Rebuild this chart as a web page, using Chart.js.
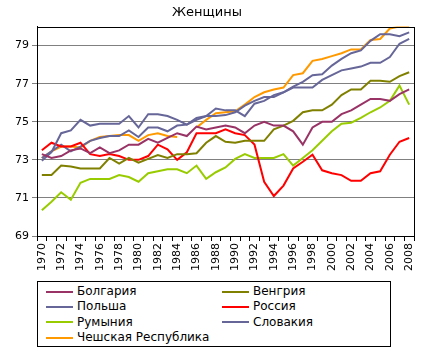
<!DOCTYPE html>
<html>
<head>
<meta charset="utf-8">
<script src="https://cdn.jsdelivr.net/npm/chart.js@4"></script>
<style>
  body { margin: 0; background: #fff; }
  #wrap { position: relative; width: 430px; height: 360px; }
  #box { position: absolute; left: 0; top: 0; width: 430px; height: 280px; }
  #legend {
    position: absolute; left: 37px; top: 281px; width: 354px; height: 66px;
    border: 1px solid #000; box-sizing: border-box;
    font: 12px "DejaVu Sans", sans-serif; color: #000;
  }
  #legend .item { position: absolute; height: 15px; line-height: 15px; white-space: nowrap; }
  #legend .item span.ln { display: inline-block; width: 27px; height: 2px; vertical-align: middle; margin-right: 4px; }
</style>
</head>
<body>
<div id="wrap">
  <div id="box"><canvas id="myChart"></canvas></div>
  <div id="legend"></div>
</div>
<script>
// Годы
var years = [];
for (var y = 1970; y <= 2008; y++) years.push(String(y));

// Ожидаемая продолжительность жизни женщин
var bulgaria = [73.3, 73.1, 73.2, 73.5, 73.6, 73.35, 73.65, 73.35, 73.5, 73.8,
  73.8, 74.1, 73.9, 74.15, 74.4, 74.25, 74.75, 74.6, 74.7, 74.8,
  74.7, 74.4, 74.8, 75.0, 74.8, 74.8, 74.5, 73.8, 74.7, 75.0,
  75.0, 75.4, 75.6, 75.9, 76.2, 76.2, 76.1, 76.45, 76.7];
var hungary = [72.2, 72.2, 72.7, 72.65, 72.55, 72.55, 72.55, 73.1, 72.8, 73.1,
  72.85, 73.05, 73.25, 73.1, 73.3, 73.3, 73.35, 73.9, 74.25, 73.95,
  73.9, 74.0, 74.0, 74.0, 74.6, 74.8, 75.05, 75.5, 75.6, 75.6,
  75.9, 76.4, 76.7, 76.7, 77.15, 77.15, 77.1, 77.4, 77.6];
var poland = [72.95, 73.4, 74.4, 74.55, 75.1, 74.8, 74.9, 74.9, 74.9, 75.3,
  74.7, 75.4, 75.4, 75.3, 75.1, 74.85, 75.1, 75.3, 75.7, 75.6,
  75.6, 75.3, 75.95, 76.1, 76.4, 76.55, 76.85, 77.1, 77.45, 77.5,
  77.95, 78.3, 78.6, 78.75, 79.25, 79.6, 79.6, 79.5, 79.7];
var russia = [73.5, 73.9, 73.7, 73.7, 73.9, 73.3, 73.2, 73.3, 73.2, 73.0,
  73.0, 73.2, 73.8, 73.55, 73.0, 73.4, 74.4, 74.4, 74.4, 74.6,
  74.4, 74.3, 73.8, 71.85, 71.1, 71.65, 72.55, 72.9, 73.27, 72.45,
  72.3, 72.2, 71.9, 71.9, 72.3, 72.4, 73.27, 73.95, 74.15];
var romania = [70.35, 70.8, 71.3, 70.9, 71.8, 72.0, 72.0, 72.0, 72.2, 72.1,
  71.85, 72.3, 72.4, 72.5, 72.5, 72.3, 72.7, 72.0, 72.35, 72.6,
  73.05, 73.3, 73.1, 73.1, 73.1, 73.3, 72.7, 73.1, 73.5, 74.0,
  74.5, 74.9, 74.95, 75.2, 75.5, 75.75, 76.1, 76.9, 75.9];
var slovakia = [73.1, 73.45, 73.8, 73.45, 73.7, 74.0, 74.15, 74.25, 74.25, 74.55,
  74.2, 74.7, 74.7, 74.5, 74.8, 74.85, 75.2, 75.3, 75.3, 75.35,
  75.5, 75.85, 76.1, 76.3, 76.3, 76.55, 76.8, 76.8, 76.8, 77.2,
  77.45, 77.7, 77.8, 77.9, 78.1, 78.1, 78.4, 79.1, 79.35];
var czech = [73.1, 73.45, 73.7, 73.7, 73.65, 74.0, 74.2, 74.25, 74.3, 74.3,
  74.0, 74.3, 74.4, 74.25, 74.2, null, 74.7, 75.1, 75.45, 75.5,
  75.55, 75.9, 76.3, 76.55, 76.7, 76.8, 77.45, 77.55, 78.2, 78.3,
  78.45, 78.6, 78.8, 78.8, 79.3, 79.35, 79.9, 80.0, 80.0];

var yTicks = [69, 71, 73, 75, 77, 79];

function ds(label, data, color) {
  return {
    label: label, data: data, borderColor: color, backgroundColor: color,
    borderWidth: 2, pointRadius: 0, tension: 0, spanGaps: false
  };
}

var data = {
  labels: years,
  datasets: [
    ds("Болгария", bulgaria, "#993366"),
    ds("Венгрия", hungary, "#808000"),
    ds("Польша", poland, "#666699"),
    ds("Россия", russia, "#ff0000"),
    ds("Румыния", romania, "#99cc00"),
    ds("Словакия", slovakia, "#666699"),
    ds("Чешская Республика", czech, "#ff9900")
  ]
};

// рамка области построения
var frame = {
  id: 'frame',
  afterDraw: function (chart) {
    var a = chart.chartArea, c = chart.ctx;
    c.save();
    c.strokeStyle = '#000';
    c.lineWidth = 1;
    c.strokeRect(Math.round(a.left) + 0.5, Math.round(a.top) + 0.5,
      Math.round(a.right - a.left), Math.round(a.bottom - a.top));
    c.restore();
  }
};

var ctx = document.getElementById('myChart').getContext('2d');
var myChart = new Chart(ctx, {
  type: 'line',
  data: data,
  plugins: [frame],
  options: {
    responsive: true,
    maintainAspectRatio: false,
    animation: false,
    layout: { padding: { left: 0, right: 16, top: 0, bottom: 4 } },
    plugins: {
      legend: { display: false },
      tooltip: { enabled: false },
      title: {
        display: true, text: "Женщины", color: '#000',
        font: { family: "DejaVu Sans", size: 13, weight: 'normal' },
        padding: { top: 5, bottom: 6 }
      }
    },
    scales: {
      x: {
        offset: true,
        grid: { offset: true, drawOnChartArea: false, drawTicks: true, tickLength: 5, color: '#000' },
        border: { color: '#000' },
        ticks: {
          autoSkip: false, maxRotation: 90, minRotation: 90, padding: 2,
          color: '#000', font: { family: "DejaVu Sans", size: 11 },
          callback: function (v, i) { return i % 2 === 0 ? years[i] : ''; }
        },
        afterFit: function (s) { s.height = 40; }
      },
      y: {
        min: 69, max: 80,
        afterBuildTicks: function (s) { s.ticks = yTicks.map(function (v) { return { value: v }; }); },
        grid: { color: '#808080', tickLength: 5, drawTicks: true },
        border: { color: '#000' },
        ticks: { color: '#000', padding: 3, font: { family: "DejaVu Sans", size: 11 } },
        afterFit: function (s) { s.width = 37; }
      }
    }
  }
});

// легенда в две колонки
var leg = document.getElementById('legend');
myChart.data.datasets.forEach(function (d, i) {
  var el = document.createElement('div');
  el.className = 'item';
  el.style.left = (i % 2 === 0 ? 8 : 184) + 'px';
  el.style.top = (2 + Math.floor(i / 2) * 15.4) + 'px';
  el.innerHTML = '<span class="ln" style="background:' + d.borderColor + '"></span>' + d.label;
  leg.appendChild(el);
});
</script>
</body>
</html>
